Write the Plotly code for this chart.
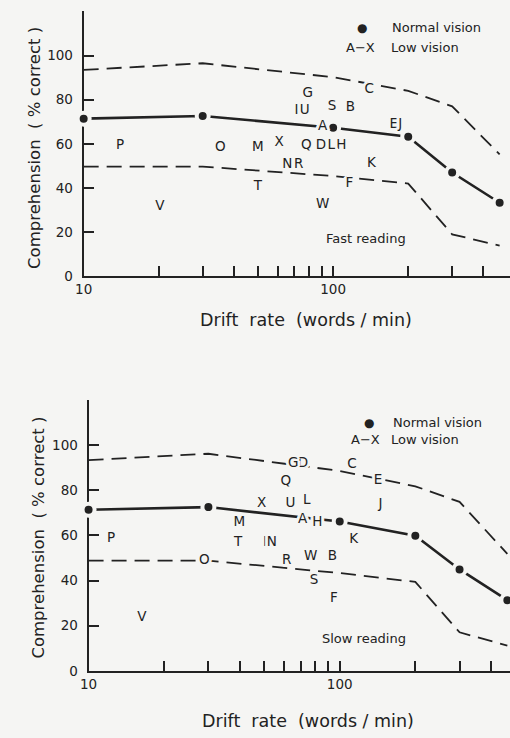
import numpy as np
import plotly.graph_objects as go

# ---------------- data ----------------
rates = [10, 30, 100, 200, 300, 465]

normal_fast = [71.4, 72.6, 67.3, 63.2, 47.0, 33.3]
upper_fast = [93.5, 96.5, 90.2, 84.0, 77.0, 55.2]
lower_fast = [49.7, 49.7, 45.4, 42.0, 19.0, 13.9]

normal_slow = [71.3, 72.5, 66.1, 59.8, 44.9, 31.3]
upper_slow = [93.3, 96.1, 88.5, 81.7, 74.8, 51.8]
lower_slow = [48.8, 48.8, 43.3, 39.4, 17.1, 11.2]

subjects = list("ABCDEFGHIJKLMNOPQRSTUVWX")

fast_rate = [90.8, 117.4, 139.4, 89.4, 175, 116.3, 79.2, 107.9, 71.3, 186, 142.5, 98.4,
             49.9, 65.5, 35.3, 14.0, 78.1, 72.8, 99, 49.9, 76.9, 20.2, 90.8, 60.7]
fast_comp = [67.7, 76.2, 84.4, 59, 68.7, 41.9, 82.6, 59, 75.1, 68.7, 51.2, 59,
             58.4, 50.8, 58.5, 59.4, 59, 50.8, 76.9, 40.8, 75.1, 31.4, 32.3, 60.5]

slow_rate = [71.2, 93.6, 112, 71.4, 142, 94.8, 65.3, 81.5, 50.4, 145.5, 113.7, 74,
             39.8, 53.7, 28.9, 12.3, 61, 61.5, 79.1, 39.4, 63.7, 16.3, 76.7, 48.9]
slow_comp = [67, 50.6, 91.2, 91.6, 84.3, 32.1, 91.6, 65.5, 56.6, 73.7, 58, 75.4,
             65.6, 56.6, 48.6, 58.5, 83.6, 48.6, 40.1, 56.9, 74, 23.8, 50.6, 74]

y_ticks = [0, 20, 40, 60, 80, 100, 120]
y_ticktext = ["0", "20", "40", "60", "80", "100", ""]
x_ticks = [10, 20, 30, 40, 50, 60, 70, 80, 90, 100, 200, 300, 400]
x_ticktext = ["10", "", "", "", "", "", "", "", "", "100", "", "", ""]

# ---------------- style ----------------
BG = "#f5f5f3"
INK = "#222222"
FONT = "DejaVu Sans"
W, H = 510, 738
NB = "\u00a0"

halo = ", ".join("%dpx %dpx 0px %s" % (dx, dy, BG)
                 for dx, dy in [(3, 0), (-3, 0), (0, 3), (0, -3), (2, 2), (-2, -2),
                                (2, -2), (-2, 2), (1, 0), (-1, 0), (0, 1), (0, -1)])

fig = go.Figure()

panels = [
    ("x", "y", normal_fast, upper_fast, lower_fast, fast_rate, fast_comp),
    ("x2", "y2", normal_slow, upper_slow, lower_slow, slow_rate, slow_comp),
]

for xa, ya, normal, upper, lower, lrate, lcomp in panels:
    for band in (upper, lower):
        fig.add_trace(go.Scatter(
            x=rates, y=band, xaxis=xa, yaxis=ya, mode="lines",
            line=dict(color=INK, width=1.8, dash="15px,8px"),
            showlegend=False, hoverinfo="skip", cliponaxis=False))
    fig.add_trace(go.Scatter(
        x=rates, y=normal, xaxis=xa, yaxis=ya, mode="lines+markers",
        line=dict(color=INK, width=2.6),
        marker=dict(color=INK, size=12, line=dict(color=BG, width=4)),
        showlegend=False, cliponaxis=False))
    fig.add_trace(go.Scatter(
        x=lrate, y=lcomp, xaxis=xa, yaxis=ya, mode="text", text=subjects,
        textposition="middle center",
        textfont=dict(family=FONT, size=13.5, color=INK, shadow=halo),
        showlegend=False, cliponaxis=False))


def px(xp):
    return xp / W


def py(yp):
    return 1 - yp / H


def note(x, y, text, size=13, xanchor="center", angle=0):
    return dict(x=px(x), y=py(y), xref="paper", yref="paper", text=text,
                showarrow=False, xanchor=xanchor, yanchor="middle", textangle=angle,
                font=dict(family=FONT, size=size, color=INK))


annotations = []
legend_items = [
    (359, 28.3, 388, 48.3, 340.7, 386.7),
    (366.7, 427.3, 389, 444.0, 345.7, 387.0),
]
for dx, dy, nx, ly, ax_, lx in legend_items:
    annotations.append(note(dx, dy, "●", size=12))
    annotations.append(note(nx, dy, "Normal" + NB + "vision", xanchor="left"))
    annotations.append(note(ax_, ly, "A−X", xanchor="left"))
    annotations.append(note(lx, ly, "Low" + NB + "vision", xanchor="left"))

annotations.append(note(320.7, 241, "Fast reading", xanchor="left"))
annotations.append(note(316.7, 645, "Slow reading", xanchor="left"))

xtitle = "Drift" + NB * 2 + "rate" + NB * 2 + "(words" + NB + "/" + NB + "min)"
ytitle = "Comprehension" + NB * 2 + "(" + NB + "%" + NB + "correct" + NB + ")"
for cx, cy in [(302, 323.3), (304, 729.3)]:
    annotations.append(note(cx, cy, xtitle, size=17.5))
for cx, cy in [(26, 150), (30, 543)]:
    annotations.append(note(cx, cy, ytitle, size=16.5, angle=-90))

common_x = dict(type="log", showgrid=False, zeroline=False, showline=True,
                linecolor=INK, linewidth=2, ticks="inside", ticklen=10, tickwidth=1.6,
                tickcolor=INK, tickmode="array", tickvals=x_ticks, ticktext=x_ticktext,
                tickfont=dict(family=FONT, size=13.5, color=INK), layer="below traces")
common_y = dict(showgrid=False, zeroline=False, showline=True, range=[0, 120],
                linecolor=INK, linewidth=2, ticks="inside", ticklen=10, tickwidth=1.6,
                tickcolor=INK, tickmode="array", tickvals=y_ticks, ticktext=y_ticktext,
                tickfont=dict(family=FONT, size=13.5, color=INK), layer="below traces",
                ticklabelstandoff=6)

fig.update_layout(
    width=W, height=H, margin=dict(l=0, r=0, t=0, b=0),
    paper_bgcolor=BG, plot_bgcolor=BG, showlegend=False,
    xaxis=dict(common_x, domain=[px(76), 1], range=[1, 2.709], anchor="y"),
    yaxis=dict(common_y, domain=[py(279.3), py(11.5)], anchor="x"),
    xaxis2=dict(common_x, domain=[px(81), 1], range=[1, 2.678], anchor="y2"),
    yaxis2=dict(common_y, domain=[py(678.3), py(404.1)], anchor="x2"),
    annotations=annotations,
)

fig.write_html("out.html", config={"displayModeBar": False},
               post_script="document.body.style.margin='0';document.body.style.background='%s';" % BG)
